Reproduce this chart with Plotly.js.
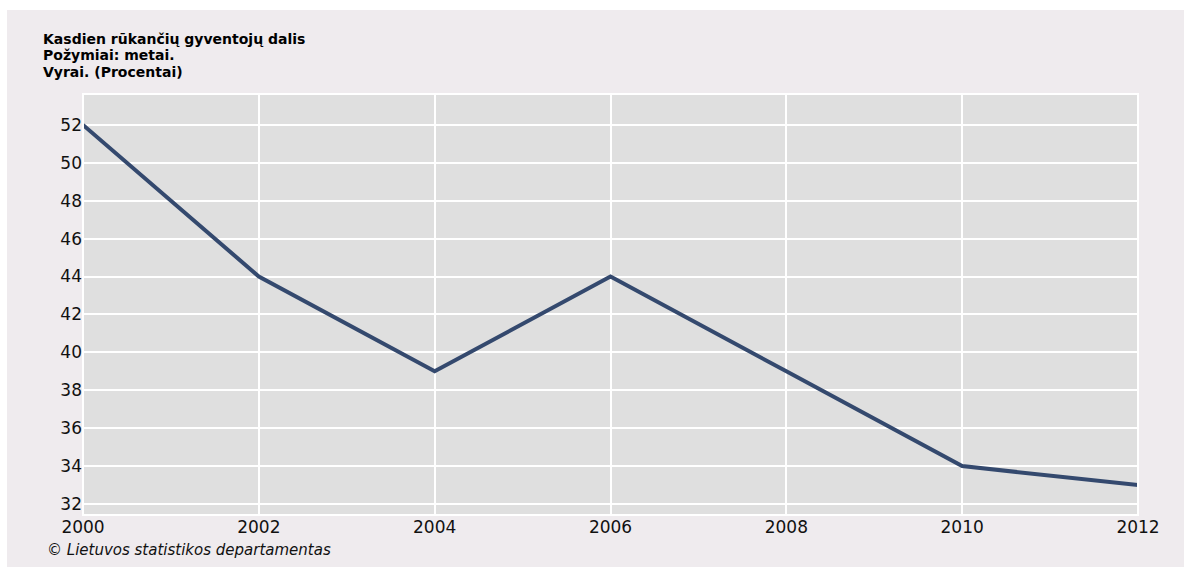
<!DOCTYPE html>
<html>
<head>
<meta charset="utf-8">
<script src="https://cdn.plot.ly/plotly-3.0.1.min.js"></script>
<style>
html,body{margin:0;padding:0;background:#ffffff;width:1184px;height:567px;overflow:hidden;}
#chart{position:absolute;left:7px;top:10px;width:1177px;height:557px;}
</style>
</head>
<body>
<div id="chart"></div>
<script>
const years = [2000, 2002, 2004, 2006, 2008, 2010, 2012];
const shareMen = [52, 44, 39, 44, 39, 34, 33];
const yTicks = [32, 34, 36, 38, 40, 42, 44, 46, 48, 50, 52];
const xTicks = [2000, 2002, 2004, 2006, 2008, 2010, 2012];
const titleLines = ["Kasdien rūkančių gyventojų dalis", "Požymiai: metai.", "Vyrai. (Procentai)"];
const sourceText = "© Lietuvos statistikos departamentas";

const trace = {
  x: years, y: shareMen, type: 'scatter', mode: 'lines',
  line: {color: '#34496e', width: 4},
  hoverinfo: 'skip'
};

const titleShifts = [55, 39, 22];
const titleAnns = titleLines.map((s, i) => ({
  xref: 'paper', yref: 'paper', x: -0.0398, y: 1, xanchor: 'left', yanchor: 'middle',
  yshift: titleShifts[i], align: 'left', showarrow: false,
  text: '<b>' + s + '</b>',
  font: {family: '"DejaVu Sans", Verdana, sans-serif', size: 14, color: '#000000'}
}));

const tickFont = {family: '"DejaVu Sans", Verdana, sans-serif', size: 17, color: '#111111'};

const layout = {
  width: 1177, height: 557,
  paper_bgcolor: '#efebee',
  plot_bgcolor: '#dfdfdf',
  margin: {l: 76, r: 46, t: 84, b: 52},
  showlegend: false,
  font: {family: '"DejaVu Sans", Verdana, sans-serif', size: 15, color: '#111111'},
  xaxis: {
    range: [2000, 2012], tickvals: xTicks, ticktext: xTicks.map(String),
    showgrid: true, gridcolor: '#ffffff', gridwidth: 2,
    zeroline: false, showline: false, ticks: '', ticklen: 0,
    tickfont: tickFont, automargin: false
  },
  yaxis: {
    range: [31.42, 53.63], tickvals: yTicks, ticktext: yTicks.map(String),
    showgrid: true, gridcolor: '#ffffff', gridwidth: 2,
    zeroline: false, showline: false, ticks: '', ticklen: 0,
    tickfont: tickFont, automargin: false
  },
  shapes: [{
    type: 'rect', xref: 'paper', yref: 'paper', x0: 0, x1: 1, y0: 0, y1: 1,
    line: {color: '#ffffff', width: 2}, fillcolor: 'rgba(0,0,0,0)', layer: 'above'
  }],
  annotations: titleAnns.concat([
    {
      xref: 'paper', yref: 'paper', x: -0.036, y: 0, xanchor: 'left', yanchor: 'middle',
      yshift: -35, align: 'left', showarrow: false,
      text: '<i>' + sourceText + '</i>',
      font: {family: '"DejaVu Sans", Verdana, sans-serif', size: 15, color: '#111111'}
    }
  ])
};

Plotly.newPlot('chart', [trace], layout, {displayModeBar: false, staticPlot: true});
</script>
</body>
</html>
